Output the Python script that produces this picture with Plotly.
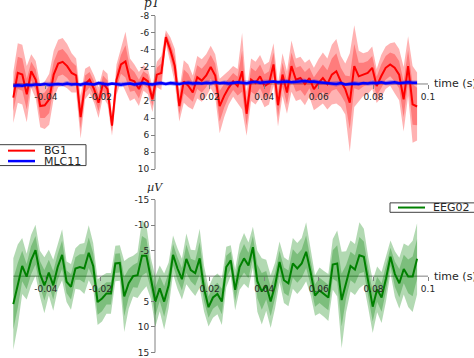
import numpy as np
import plotly.graph_objects as go

# ---------------- data ----------------
T_START = -0.0519   # first sample (s)
T_END = 0.0960      # last sample (s)

# top panel (pT)
bg1_values = [
    1.6, -1.3, -1.1, 1.2, -1.5, -0.5, 2.6, 2.5, 1.8, -1.1,
    -2.4, -2.6, -2.1, -1.3, -1.0, 3.9, 0.0, -0.5, 0.6, 2.2,
    -0.1, 0.6, 4.9, -0.5, -2.3, -2.65, -0.5, -0.3, 0.6, -0.7,
    -0.3, 1.8, -1.1, -1.3, -5.5, -4.0, -2.1, 2.6, -0.3, 0.2,
    1.0, -0.8, -0.4, -1.0, -2.0, -1.0, 2.6, 1.4, 0.45, -0.3,
    0.25, -1.5, 3.5, -0.5, -0.1, -0.9, 0.25, -0.1, -2.3, 2.5,
    -1.1, 1.0, -2.1, -0.5, -0.7, 0.0, -0.7, 0.6, -0.1, -0.7,
    0.0, -1.1, -1.5, -0.3, 0.6, 2.2, -2.1, -0.9, -1.1, -1.3,
    -1.9, 0.25, -0.9, -1.9, -2.3, -1.9, -1.1, 1.8, -2.1, 2.4,
    2.65]
bg1_ci_outer = [
    3.0, 3.5, 3.5, 3.3, 2.0, 2.2, 2.5, 2.8, 3.0, 2.8,
    2.8, 2.8, 2.6, 2.3, 2.0, 2.5, 1.8, 1.6, 1.6, 1.8,
    1.6, 1.8, 1.2, 1.8, 2.0, 3.5, 2.5, 2.0, 2.0, 1.5,
    1.5, 1.5, 1.5, 2.0, 0.8, 1.5, 2.0, 1.8, 2.5, 2.5,
    2.0, 2.5, 2.5, 2.5, 2.5, 2.5, 3.2, 2.5, 2.0, 1.8,
    2.0, 4.5, 2.6, 2.5, 2.5, 2.5, 2.5, 2.5, 2.5, 2.5,
    2.5, 2.5, 3.0, 2.5, 2.5, 2.5, 2.2, 2.5, 2.8, 3.0,
    3.0, 3.5, 3.8, 3.0, 3.0, 5.8, 4.8, 3.0, 2.5, 2.5,
    2.5, 2.0, 2.5, 2.5, 2.5, 3.0, 3.0, 3.8, 3.5, 4.5,
    4.0]
bg1_ci_inner = [
    1.6, 1.9, 1.9, 1.8, 1.1, 1.2, 1.4, 1.5, 1.6, 1.5,
    1.5, 1.5, 1.4, 1.3, 1.1, 1.4, 1.0, 0.9, 0.9, 1.0,
    0.9, 1.0, 0.7, 1.0, 1.1, 1.9, 1.4, 1.1, 1.1, 0.8,
    0.8, 0.8, 0.8, 1.1, 0.5, 0.8, 1.1, 1.0, 1.4, 1.4,
    1.1, 1.4, 1.4, 1.4, 1.4, 1.4, 1.8, 1.4, 1.1, 1.0,
    1.1, 2.4, 1.4, 1.4, 1.4, 1.4, 1.4, 1.4, 1.4, 1.4,
    1.4, 1.4, 1.6, 1.4, 1.4, 1.4, 1.2, 1.4, 1.5, 1.6,
    1.6, 1.9, 2.1, 1.6, 1.6, 3.1, 2.6, 1.6, 1.4, 1.4,
    1.4, 1.1, 1.4, 1.4, 1.4, 1.6, 1.6, 2.1, 1.9, 2.4,
    2.2]
mlc11_values = [
    0.2, 0.15, 0.2, 0.1, 0.15, 0.05, 0.1, 0.0, 0.1, 0.05,
    0.0, 0.05, -0.05, 0.05, 0.0, 0.1, -0.05, 0.0, 0.05, -0.1,
    0.0, 0.05, -0.05, 0.0, 0.1, 0.0, -0.05, 0.05, 0.0, -0.1,
    0.0, 0.05, -0.05, -0.1, 0.0, -0.1, -0.05, 0.0, -0.1, -0.15,
    -0.05, -0.1, -0.05, -0.15, -0.1, -0.2, -0.1, -0.15, -0.05, -0.1,
    -0.2, -0.15, -0.1, -0.2, -0.25, -0.15, -0.2, -0.25, -0.3, -0.2,
    -0.25, -0.3, -0.2, -0.25, -0.3, -0.35, -0.25, -0.3, -0.2, -0.15,
    -0.1, -0.05, 0.0, -0.1, 0.05, 0.0, -0.05, 0.0, -0.1, -0.05,
    -0.15, -0.1, -0.2, -0.1, -0.15, -0.2, -0.1, -0.15, -0.2, -0.15,
    -0.15]
mlc11_ci = [
    0.25, 0.3, 0.25, 0.2, 0.3, 0.25, 0.2, 0.25, 0.3, 0.25,
    0.2, 0.25, 0.3, 0.25, 0.2, 0.25, 0.3, 0.25, 0.2, 0.25,
    0.3, 0.25, 0.2, 0.25, 0.3, 0.25, 0.2, 0.25, 0.3, 0.25,
    0.2, 0.25, 0.3, 0.25, 0.2, 0.25, 0.3, 0.25, 0.2, 0.25,
    0.3, 0.25, 0.2, 0.25, 0.3, 0.25, 0.2, 0.25, 0.3, 0.25,
    0.2, 0.25, 0.3, 0.25, 0.2, 0.25, 0.3, 0.25, 0.2, 0.25,
    0.3, 0.25, 0.2, 0.25, 0.3, 0.25, 0.2, 0.25, 0.3, 0.25,
    0.2, 0.25, 0.3, 0.25, 0.2, 0.25, 0.3, 0.25, 0.2, 0.25,
    0.3, 0.25, 0.2, 0.25, 0.3, 0.25, 0.2, 0.25, 0.3, 0.25,
    0.25]

# bottom panel (µV)
eeg02_values = [
    5.5, 1.8, -2.0, 0.1, -3.1, -5.1, -0.5, 1.8, -0.7, 1.8,
    -1.8, -4.2, 1.1, 2.1, -1.5, -1.8, -1.5, -4.6, -2.0, 5.1,
    4.4, 3.4, 3.4, -2.5, -2.6, 4.0, 1.4, 0.0, -0.2, -4.0,
    -4.0, 0.45, 5.0, 2.4, 5.0, 1.8, -4.2, -1.5, 0.6, -3.4,
    -1.2, -0.6, -3.5, 2.5, 6.1, 4.2, 3.5, 5.0, -1.8, -3.1,
    2.7, -1.8, -3.5, -2.1, -5.7, 1.0, 3.0, 1.8, 5.0, 1.8,
    -2.8, 0.8, 1.4, -2.5, -1.5, -2.5, -4.8, -0.8, 3.8, 2.8,
    3.5, 4.2, -2.3, -2.5, 4.7, 1.1, -2.0, -1.3, -4.1, -3.8,
    1.3, 6.0, 2.6, 4.2, 0.45, -3.8, -0.4, 1.4, -1.4, 0.05,
    0.05, -3.4]
eeg02_ci_outer = [
    9.0, 8.0, 5.5, 4.5, 5.0, 5.0, 4.5, 5.5, 4.5, 5.0,
    4.5, 5.0, 4.0, 4.5, 4.0, 4.5, 5.0, 5.4, 4.5, 4.5,
    4.5, 4.0, 4.0, 3.5, 3.5, 7.0, 5.0, 4.0, 4.5, 7.0,
    6.0, 4.0, 5.0, 4.5, 5.5, 4.5, 3.8, 4.0, 4.0, 5.0,
    4.0, 4.5, 5.8, 4.5, 3.8, 4.0, 4.0, 4.6, 4.0, 3.0,
    4.0, 4.5, 5.0, 4.5, 4.0, 6.0, 6.5, 5.0, 5.2, 4.5,
    4.0, 4.5, 4.5, 5.0, 5.0, 5.0, 5.8, 4.5, 4.0, 4.5,
    4.5, 4.6, 5.0, 6.5, 9.5, 6.0, 5.0, 5.0, 6.5, 5.5,
    5.0, 5.2, 4.5, 5.0, 4.5, 3.2, 4.5, 5.0, 5.0, 6.0,
    7.0, 7.0]
eeg02_ci_inner = [
    5.0, 4.4, 3.0, 2.5, 2.8, 2.8, 2.5, 3.0, 2.5, 2.8,
    2.5, 2.8, 2.2, 2.5, 2.2, 2.5, 2.8, 3.0, 2.5, 2.5,
    2.5, 2.2, 2.2, 1.9, 1.9, 3.9, 2.8, 2.2, 2.5, 3.9,
    3.3, 2.2, 2.8, 2.5, 3.0, 2.5, 2.1, 2.2, 2.2, 2.8,
    2.2, 2.5, 3.2, 2.5, 2.1, 2.2, 2.2, 2.5, 2.2, 1.7,
    2.2, 2.5, 2.8, 2.5, 2.2, 3.3, 3.6, 2.8, 2.9, 2.5,
    2.2, 2.5, 2.5, 2.8, 2.8, 2.8, 3.2, 2.5, 2.2, 2.5,
    2.5, 2.5, 2.8, 3.6, 5.2, 3.3, 2.8, 2.8, 3.6, 3.0,
    2.8, 2.9, 2.5, 2.8, 2.5, 1.8, 2.5, 2.8, 2.8, 3.3,
    3.9, 3.9]

x_ticks = [-0.04, -0.02, 0.02, 0.04, 0.06, 0.08, 0.1]
x_ticktext = ["-0.04", "-0.02", "0.02", "0.04", "0.06", "0.08", "0.1"]
top_yticks = [-8, -6, -4, -2, 2, 4, 6, 8, 10]
bot_yticks = [-15, -10, -5, 5, 10, 15]

# ---------------- layout geometry ----------------
W, H = 474, 358
X0_PX, X_PER = 155.0, 2730.0          # pixel of t=0, pixels per second
XMIN = (0 - X0_PX) / X_PER
XMAX = (W - X0_PX) / X_PER
AXIS_X_PAPER = X0_PX / W
GRAY = "#808080"
TXT = "#262626"


def panel(v_top, px_top, v_bot, px_bot, dom_px0, dom_px1):
    scale = (px_bot - px_top) / (v_bot - v_top)
    r_top = v_top - (px_top - dom_px0) / scale
    r_bot = v_bot + (dom_px1 - px_bot) / scale
    domain = [1 - dom_px1 / H, 1 - dom_px0 / H]
    zero_px = px_top + (0 - v_top) * scale
    return domain, [r_bot, r_top], 1 - zero_px / H, zero_px


top_dom, top_rng, top_zero, top_zero_px = panel(-8, 16.0, 10, 170.0, 1, 180)
bot_dom, bot_rng, bot_zero, bot_zero_px = panel(-15, 201.0, 15, 354.4, 189, 358)

fig = go.Figure()


def add_series(vals, ci_list, colour_rgb, xa, ya, width):
    v = np.asarray(vals, float)
    t = np.linspace(T_START, T_END, len(v))
    for ci in ci_list:
        hw = np.asarray(ci, float)
        assert len(hw) == len(v)
        xs = np.concatenate([t, t[::-1]])
        ys = np.concatenate([v + hw, (v - hw)[::-1]])
        fig.add_trace(go.Scatter(
            x=xs, y=ys, fill="toself", mode="lines", line=dict(width=0),
            fillcolor="rgba(%d,%d,%d,0.3)" % colour_rgb,
            hoverinfo="skip", showlegend=False, xaxis=xa, yaxis=ya))
    fig.add_trace(go.Scatter(
        x=t, y=v, mode="lines",
        line=dict(color="rgb(%d,%d,%d)" % colour_rgb, width=width),
        showlegend=False, xaxis=xa, yaxis=ya))


add_series(bg1_values, [bg1_ci_outer, bg1_ci_inner], (255, 0, 0), "x", "y", 2)
add_series(mlc11_values, [mlc11_ci], (0, 0, 255), "x", "y", 2.5)
add_series(eeg02_values, [eeg02_ci_outer, eeg02_ci_inner], (0, 128, 0), "x2", "y2", 2)

tickfont = dict(family="DejaVu Sans", size=9, color=TXT)
xcommon = dict(range=[XMIN, XMAX], domain=[0, 1], anchor="free", showline=False,
               showgrid=False, zeroline=False, ticks="outside", ticklen=4,
               tickcolor=GRAY, tickwidth=1, tickvals=x_ticks, ticktext=x_ticktext,
               tickfont=tickfont, fixedrange=True, ticklabeloverflow="allow")
ycommon = dict(anchor="free", position=AXIS_X_PAPER, showline=False,
               showgrid=False, zeroline=False, ticks="outside", ticklen=4,
               tickcolor=GRAY, tickwidth=1, tickfont=tickfont, fixedrange=True,
               ticklabeloverflow="allow")

fig.update_layout(
    width=W, height=H, autosize=False,
    margin=dict(l=0, r=0, t=0, b=0, pad=0),
    paper_bgcolor="white", plot_bgcolor="white",
    showlegend=False,
    xaxis=dict(position=top_zero, **xcommon),
    xaxis2=dict(position=bot_zero, **xcommon),
    yaxis=dict(domain=top_dom, range=top_rng, tickvals=top_yticks,
               ticktext=[str(v) for v in top_yticks], **ycommon),
    yaxis2=dict(domain=bot_dom, range=bot_rng, tickvals=bot_yticks,
                ticktext=[str(v) for v in bot_yticks], **ycommon),
)

shapes = []
# spines
for xa, ya, ylo, yhi in (("x", "y", -8, 10), ("x2", "y2", -15, 15)):
    shapes.append(dict(type="line", xref=xa, yref=ya, x0=0, x1=0, y0=ylo, y1=yhi,
                       line=dict(color=GRAY, width=1), layer="below"))
    shapes.append(dict(type="line", xref=xa, yref=ya, x0=T_START, x1=0.1, y0=0, y1=0,
                       line=dict(color=GRAY, width=1), layer="below"))


def px(xp):
    return xp / W


def py(yp):
    return 1 - yp / H


# legends (drawn by hand)
shapes.append(dict(type="rect", xref="paper", yref="paper", x0=px(-2), x1=px(86),
                   y0=py(166.5), y1=py(145.5), line=dict(color="#404040", width=1),
                   fillcolor="white", layer="above"))
shapes.append(dict(type="line", xref="paper", yref="paper", x0=px(8), x1=px(35),
                   y0=py(151.5), y1=py(151.5), line=dict(color="red", width=2)))
shapes.append(dict(type="line", xref="paper", yref="paper", x0=px(8), x1=px(35),
                   y0=py(162), y1=py(162), line=dict(color="blue", width=2.5)))
shapes.append(dict(type="rect", xref="paper", yref="paper", x0=px(390), x1=px(480),
                   y0=py(213.5), y1=py(204), line=dict(color="#404040", width=1),
                   fillcolor="white", layer="above"))
shapes.append(dict(type="line", xref="paper", yref="paper", x0=px(398), x1=px(425),
                   y0=py(208.7), y1=py(208.7), line=dict(color="green", width=2)))
fig.update_layout(shapes=shapes)

lfont = dict(family="DejaVu Sans", size=11, color=TXT)
ann = [
    dict(text="BG1", x=px(43), y=py(151.5), xanchor="left", yanchor="middle", font=lfont),
    dict(text="MLC11", x=px(43), y=py(162.2), xanchor="left", yanchor="middle", font=lfont),
    dict(text="EEG02", x=px(432), y=py(208.7), xanchor="left", yanchor="middle", font=lfont),
    dict(text="time (s)", x=px(433), y=top_zero, xanchor="left", yanchor="middle", font=lfont),
    dict(text="time (s)", x=px(433), y=bot_zero, xanchor="left", yanchor="middle", font=lfont),
    dict(text="<i>pT</i>", x=px(152), y=py(11), xanchor="center", yanchor="bottom",
         font=dict(family="DejaVu Serif", size=12, color=TXT)),
    dict(text="<i>µV</i>", x=px(155), y=py(188.5), xanchor="center", yanchor="middle",
         font=dict(family="DejaVu Serif", size=11, color=TXT)),
]
for a in ann:
    a.update(xref="paper", yref="paper", showarrow=False, borderpad=0)
fig.update_layout(annotations=ann)

fig.write_html(
    "out.html",
    config={"displayModeBar": False},
    post_script="document.body.style.margin='0';document.body.style.overflow='hidden';",
)
